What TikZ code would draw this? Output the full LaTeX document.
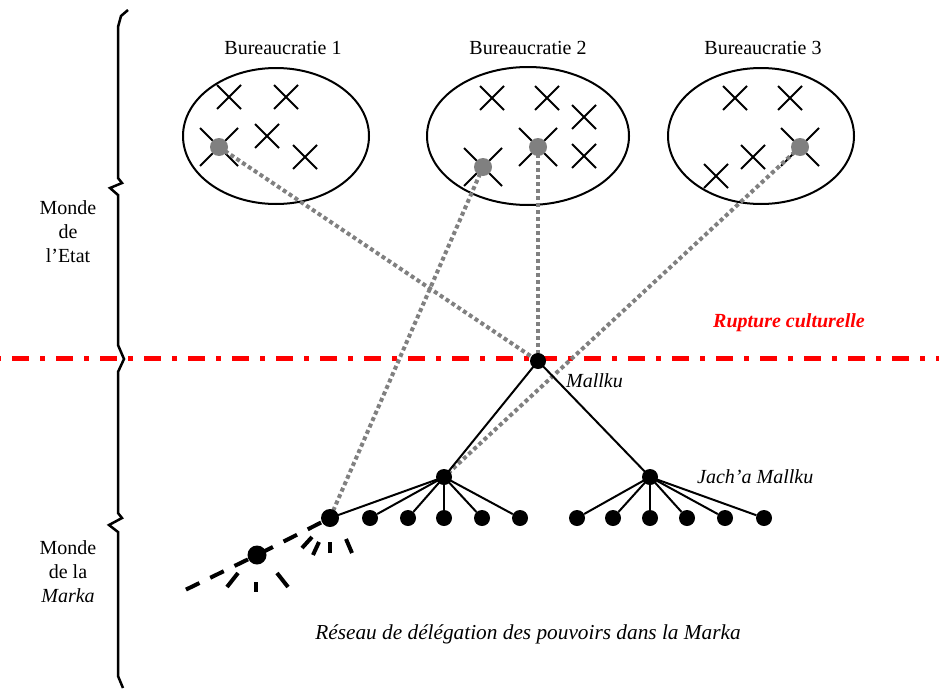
\documentclass[tikz,border=0pt]{standalone}
\usepackage{fontspec}
\setmainfont{Liberation Serif}
\usetikzlibrary{shapes.misc}
\definecolor{rupt}{RGB}{255,0,0}
\definecolor{dotgrey}{RGB}{128,128,128}
\begin{document}
\begin{tikzpicture}[x=1pt,y=-1pt,
  txt/.style={font=\fontsize{20}{24}\selectfont, inner sep=0pt},
  bureau/.style={draw, line width=2pt},
  xs/.style={draw, cross out, line width=2pt, minimum size=22pt, inner sep=0pt},
  xl/.style={draw, cross out, line width=2pt, minimum size=36pt, inner sep=0pt},
  gdot/.style={circle, fill=dotgrey, minimum size=18pt, inner sep=0pt},
  bdot/.style={circle, fill=black, minimum size=16pt, inner sep=0pt},
  glink/.style={draw=dotgrey, line width=4pt, dash pattern=on 4pt off 3pt},
  blink/.style={draw=black, line width=2pt},
  wlink/.style={draw=black, line width=4pt, dash pattern=on 15pt off 12pt},
  ray/.style={draw=black, line width=4pt},
  brace/.style={draw=black, line width=2.5pt}
]
\useasboundingbox (0,0) rectangle (939,688);

% braces
\draw[brace] (128,10) -- (121,16) -- (118,27) -- (118,178) -- (122,183) -- (110,188) -- (118,195) -- (118,345) -- (124,359)
  -- (118,372) -- (118,513) -- (122,518) -- (109,525) -- (118,532) -- (118,676) -- (123,688);

% left labels
\node[txt, align=center] (etat) at (68,232) {Monde\\de\\l’Etat};
\node[txt, align=center] (marka) at (68,572) {Monde\\de la\\\textit{Marka}};

% bureaucracies
\node[txt] (t1) at (283,48) {Bureaucratie 1};
\node[txt] (t2) at (528,48) {Bureaucratie 2};
\node[txt] (t3) at (763,48) {Bureaucratie 3};
\draw[bureau] (276,136) ellipse [x radius=93, y radius=68];
\draw[bureau] (528,136) ellipse [x radius=101, y radius=69];
\draw[bureau] (761,136) ellipse [x radius=93, y radius=68];

% crosses
\node[xs] (c11) at (229,97) {};
\node[xs] (c12) at (286,97) {};
\node[xl] (c13) at (219,147) {};
\node[xs] (c14) at (267,136) {};
\node[xs] (c15) at (305,157) {};

\node[xs] (c21) at (492,98) {};
\node[xs] (c22) at (547,98) {};
\node[xs] (c23) at (584,117) {};
\node[xl] (c24) at (538,147) {};
\node[xl] (c25) at (483,167) {};
\node[xs] (c26) at (584,156) {};

\node[xs] (c31) at (735,98) {};
\node[xs] (c32) at (790,98) {};
\node[xl] (c33) at (800,147) {};
\node[xs] (c34) at (753,157) {};
\node[xs] (c35) at (716,176) {};

% red line
\coordinate (rl) at (0,358);
\coordinate (rr) at (939,358);
\draw[rupt, line width=5pt, dash pattern=on 17pt off 11pt on 5pt off 11pt, dash phase=32pt] (rl) -- (rr);
\node[txt, text=rupt, font=\fontsize{20}{24}\selectfont\bfseries\itshape] (rupture) at (789,323) {Rupture culturelle};

% coordinates of nodes
\coordinate (pb1) at (219,147);
\coordinate (pb2a) at (483,167);
\coordinate (pb2b) at (538,147);
\coordinate (pb3) at (800,147);
\coordinate (pm) at (538,361);
\coordinate (pjl) at (444,477);
\coordinate (pjr) at (650,477);
\coordinate (pa) at (330,518);
\coordinate (pb) at (257,555);
\coordinate (pend) at (181,592);

% grey links
\draw[glink] (pb1) -- (pm);
\draw[glink] (pb2b) -- (pm);
\draw[glink] (pb3) -- (pjl);
\draw[glink] (pb2a) -- (pa);

% tree
\draw[blink] (pm) -- (pjl);
\draw[blink] (pm) -- (pjr);
\foreach \i/\x in {1/370,2/408,3/444,4/482,5/520} {
  \node[bdot] (l\i) at (\x,518) {};
  \draw[blink] (pjl) -- (l\i);
}
\draw[blink] (pjl) -- (pa);
\foreach \i/\x in {1/577,2/613,3/650,4/687,5/725,6/764} {
  \node[bdot] (r\i) at (\x,518) {};
  \draw[blink] (pjr) -- (r\i);
}

% dashed tail
\draw[wlink, dash phase=-10pt] (pa) -- (pb);
\draw[wlink, dash phase=-10pt] (pb) -- (pend);
\draw[ray] (302,548) -- (312,537);
\draw[ray] (313,555) -- (319,542);
\draw[ray] (330,553) -- (330,542);
\draw[ray] (346,539) -- (352,553);
\draw[ray] (227,587) -- (238,573);
\draw[ray] (256,582) -- (256,592);
\draw[ray] (277,573) -- (288,587);

% dots
\node[gdot] (b1) at (pb1) {};
\node[gdot] (b2a) at (pb2a) {};
\node[gdot] (b2b) at (pb2b) {};
\node[gdot] (b3) at (pb3) {};
\node[bdot] (mallku) at (pm) {};
\node[bdot] (jl) at (pjl) {};
\node[bdot] (jr) at (pjr) {};
\node[bdot, minimum size=18pt] (na) at (pa) {};
\node[bdot, minimum size=19pt] (nb) at (pb) {};

% labels
\node[txt, anchor=west, font=\fontsize{20}{24}\selectfont\itshape] (lm) at (566,381) {Mallku};
\node[txt, anchor=west, font=\fontsize{20}{24}\selectfont\itshape] (lj) at (697,477) {Jach’a Mallku};
\node[txt, font=\fontsize{21.3}{25}\selectfont\itshape] (res) at (528,634) {Réseau de délégation des pouvoirs dans la Marka};
\end{tikzpicture}
\end{document}
